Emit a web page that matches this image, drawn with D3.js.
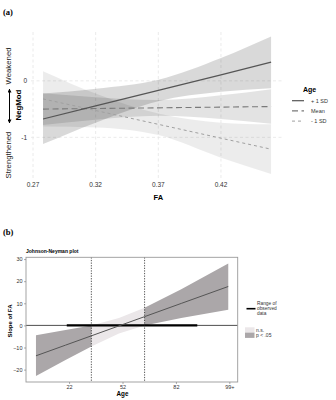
<!DOCTYPE html>
<html>
<head>
<meta charset="utf-8">
<script src="https://cdn.jsdelivr.net/npm/d3@7"></script>
<style>
  body { margin: 0; background: #fff; }
  svg { font-family: "Liberation Sans", Arial, sans-serif; display: block; }
</style>
</head>
<body>
<svg id="chart" width="336" height="400"></svg>
<script>
// Panel (a): simple slopes of NegMod on FA at three Age levels
const faX = [0.278, 0.32, 0.37, 0.42, 0.46];
const plusEst = [-0.675, -0.443, -0.17, 0.105, 0.33];
const plusLo = [-1.12, -0.74, -0.36, -0.195, -0.13];
const plusHi = [-0.225, -0.14, 0.02, 0.405, 0.785];
const meanEst = [-0.5, -0.49, -0.478, -0.465, -0.455];
const meanLo = [-0.78, -0.69, -0.62, -0.675, -0.76];
const meanHi = [-0.22, -0.29, -0.34, -0.255, -0.15];
const minusEst = [-0.32, -0.525, -0.77, -1.015, -1.21];
const minusLo = [-0.81, -0.825, -0.96, -1.36, -1.65];
const minusHi = [0.17, -0.225, -0.58, -0.74, -0.77];
const faTicks = [0.27, 0.32, 0.37, 0.42];
const negModTicks = [0, -1];
const ageLevels = ["+ 1 SD", "Mean", "- 1 SD"];

// Panel (b): Johnson-Neyman plot
const ageX = [3.4, 20, 34.5, 50, 64.4, 85, 111.4];
const jnEst = [-13.75, -8.93, -4.72, -0.22, 3.96, 9.94, 17.6];
const jnLo = [-22.9, -15.7, -9.6, -3.7, 0, 3.4, 7.1];
const jnHi = [-4.4, -2.1, 0, 3.3, 8.0, 16.4, 28.0];
const jnBounds = [34.5, 64.4];
const observedRange = [20.7, 94];
const ageTicks = [22, 52, 82, 112];
const ageTickLabels = ["22", "52", "82", "99+"];
const slopeTicks = [-20, -10, 0, 10, 20, 30];

const svg = d3.select("#chart");

// ---------- panel (a) ----------
const xA = d3.scaleLinear().domain([0.2684, 0.4695]).range([31, 283]);
const yA = d3.scaleLinear().domain([-1.72, 0.9]).range([178, 30]);

svg.append("text").attr("x", 3).attr("y", 15)
  .style("font-family", "'Liberation Serif', serif").style("font-weight", "bold").style("font-size", "8.5px")
  .text("(a)");

const gridA = svg.append("g").attr("stroke", "#e4e4e4").attr("stroke-width", 0.8).attr("stroke-dasharray", "3,2.5");
faTicks.forEach(t => {
  gridA.append("line").attr("x1", xA(t)).attr("x2", xA(t)).attr("y1", 32).attr("y2", 178);
});
negModTicks.forEach(t => {
  gridA.append("line").attr("x1", 31).attr("x2", 283).attr("y1", yA(t)).attr("y2", yA(t));
});

const seriesA = [
  { name: "- 1 SD", est: minusEst, lo: minusLo, hi: minusHi, op: 0.075, stroke: "#a0a0a0", dash: "3,3", w: 1 },
  { name: "Mean", est: meanEst, lo: meanLo, hi: meanHi, op: 0.11, stroke: "#7a7a7a", dash: "6,3.5", w: 1.1 },
  { name: "+ 1 SD", est: plusEst, lo: plusLo, hi: plusHi, op: 0.15, stroke: "#555", dash: null, w: 1.2 }
];

const bandA = d3.area()
  .x(d => xA(d.x)).y0(d => yA(d.lo)).y1(d => yA(d.hi))
  .curve(d3.curveMonotoneX);
const lineA = d3.line().x(d => xA(d.x)).y(d => yA(d.y));

seriesA.forEach(s => {
  const pts = faX.map((x, i) => ({ x, lo: s.lo[i], hi: s.hi[i] }));
  svg.append("path").datum(pts).attr("d", bandA).attr("fill", "#000").attr("fill-opacity", s.op);
});
seriesA.forEach(s => {
  const pts = faX.map((x, i) => ({ x, y: s.est[i] }));
  svg.append("path").datum(pts).attr("d", lineA)
    .attr("fill", "none").attr("stroke", s.stroke).attr("stroke-width", s.w)
    .attr("stroke-dasharray", s.dash);
});

// axis tick labels
faTicks.forEach(t => {
  svg.append("text").attr("x", xA(t)).attr("y", 187).attr("text-anchor", "middle")
    .style("font-size", "6.5px").attr("fill", "#333").text(t.toFixed(2));
});
negModTicks.forEach(t => {
  svg.append("text").attr("x", 27).attr("y", yA(t) + 2.3).attr("text-anchor", "end")
    .style("font-size", "6.5px").attr("fill", "#333").text(t);
});
svg.append("text").attr("x", xA(0.37)).attr("y", 200).attr("text-anchor", "middle")
  .style("font-size", "7.5px").style("font-weight", "bold").text("FA");

// y label with direction arrow
svg.append("text").attr("transform", "translate(11,66) rotate(-90)").attr("text-anchor", "middle")
  .style("font-size", "7.8px").attr("fill", "#222").text("Weakened");
svg.append("text").attr("transform", "translate(11,155) rotate(-90)").attr("text-anchor", "middle")
  .style("font-size", "7.8px").attr("fill", "#222").text("Strengthened");
svg.append("text").attr("transform", "translate(21,105) rotate(-90)").attr("text-anchor", "middle")
  .style("font-size", "7.8px").style("font-weight", "bold").text("NegMod");
const defs = svg.append("defs");
defs.append("marker").attr("id", "ah").attr("viewBox", "0 0 10 10").attr("refX", 9).attr("refY", 5)
  .attr("markerWidth", 4).attr("markerHeight", 4).attr("orient", "auto-start-reverse")
  .append("path").attr("d", "M0,0L10,5L0,10z").attr("fill", "#000");
svg.append("line").attr("x1", 9.5).attr("x2", 9.5).attr("y1", 89).attr("y2", 123)
  .attr("stroke", "#000").attr("stroke-width", 1)
  .attr("marker-start", "url(#ah)").attr("marker-end", "url(#ah)");

// legend (a)
svg.append("text").attr("x", 303).attr("y", 92).style("font-size", "7px").style("font-weight", "bold").text("Age");
const legStyles = [seriesA[2], seriesA[1], seriesA[0]];
ageLevels.forEach((lab, i) => {
  const s = legStyles[i];
  const y = 100.7 + i * 10.2;
  svg.append("line").attr("x1", 292).attr("x2", 304).attr("y1", y).attr("y2", y)
    .attr("stroke", s.stroke).attr("stroke-width", s.w).attr("stroke-dasharray", s.dash);
  svg.append("text").attr("x", 311).attr("y", y + 2).style("font-size", "5.5px").attr("fill", "#333").text(lab);
});

// ---------- panel (b) ----------
const xB = d3.scaleLinear().domain([-2.2, 116.7]).range([26, 237.7]);
const yB = d3.scaleLinear().domain([-25.6, 30.8]).range([382, 257.3]);

svg.append("text").attr("x", 3).attr("y", 235)
  .style("font-family", "'Liberation Serif', serif").style("font-weight", "bold").style("font-size", "8.5px")
  .text("(b)");
svg.append("text").attr("x", 26).attr("y", 253).style("font-size", "5px").style("font-weight", "bold")
  .text("Johnson-Neyman plot");

const jnPts = ageX.map((x, i) => ({ x, lo: jnLo[i], hi: jnHi[i], y: jnEst[i] }));
const bandB = d3.area().x(d => xB(d.x)).y0(d => yB(d.lo)).y1(d => yB(d.hi));
const i1 = ageX.indexOf(jnBounds[0]), i2 = ageX.indexOf(jnBounds[1]);
svg.append("path").datum(jnPts.slice(i1, i2 + 1)).attr("d", bandB).attr("fill", "#ebe7e9");
svg.append("path").datum(jnPts.slice(0, i1 + 1)).attr("d", bandB).attr("fill", "#aba7a9");
svg.append("path").datum(jnPts.slice(i2)).attr("d", bandB).attr("fill", "#aba7a9");

// zero line and observed range
svg.append("line").attr("x1", 26).attr("x2", 237.7).attr("y1", yB(0)).attr("y2", yB(0))
  .attr("stroke", "#222").attr("stroke-width", 0.8);
svg.append("line").attr("x1", xB(observedRange[0])).attr("x2", xB(observedRange[1]))
  .attr("y1", yB(0)).attr("y2", yB(0)).attr("stroke", "#000").attr("stroke-width", 2.4);

svg.append("path").datum(jnPts).attr("d", d3.line().x(d => xB(d.x)).y(d => yB(d.y)))
  .attr("fill", "none").attr("stroke", "#555").attr("stroke-width", 1);

jnBounds.forEach(b => {
  svg.append("line").attr("x1", xB(b)).attr("x2", xB(b)).attr("y1", 257.3).attr("y2", 382)
    .attr("stroke", "#111").attr("stroke-width", 0.7).attr("stroke-dasharray", "1.3,1.3");
});

svg.append("rect").attr("x", 26).attr("y", 257.3).attr("width", 211.7).attr("height", 124.7)
  .attr("fill", "none").attr("stroke", "#9a9a9a").attr("stroke-width", 0.9);

const axB = svg.append("g").attr("transform", "translate(0,382)")
  .call(d3.axisBottom(xB).tickValues(ageTicks).tickFormat((d, i) => ageTickLabels[i]).tickSize(2).tickPadding(1.5));
const ayB = svg.append("g").attr("transform", "translate(26,0)")
  .call(d3.axisLeft(yB).tickValues(slopeTicks).tickSize(2).tickPadding(1.5));
[axB, ayB].forEach(g => {
  g.select(".domain").remove();
  g.selectAll("line").attr("stroke", "#777").attr("stroke-width", 0.6);
  g.selectAll("text").style("font-size", "5.5px").attr("fill", "#333").style("font-family", "'Liberation Sans', Arial, sans-serif");
});

svg.append("text").attr("x", xB(52)).attr("y", 396).attr("text-anchor", "middle")
  .style("font-size", "6.3px").style("font-weight", "bold").text("Age");
svg.append("text").attr("transform", "translate(12," + yB(2) + ") rotate(-90)").attr("text-anchor", "middle")
  .style("font-size", "6px").style("font-weight", "bold").text("Slope of FA");

// legend (b)
svg.append("line").attr("x1", 246.5).attr("x2", 255.5).attr("y1", 308.7).attr("y2", 308.7)
  .attr("stroke", "#000").attr("stroke-width", 1.6);
["Range of", "observed", "data"].forEach((t, i) => {
  svg.append("text").attr("x", 257).attr("y", 305 + i * 4.8).style("font-size", "4.8px").attr("fill", "#333").text(t);
});
svg.append("rect").attr("x", 245).attr("y", 327.3).attr("width", 9.5).attr("height", 5.3).attr("fill", "#ebe7e9");
svg.append("rect").attr("x", 245).attr("y", 332.6).attr("width", 9.5).attr("height", 5.3).attr("fill", "#aba7a9");
svg.append("text").attr("x", 256).attr("y", 331.5).style("font-size", "5px").attr("fill", "#333").text("n.s.");
svg.append("text").attr("x", 256).attr("y", 337.2).style("font-size", "5px").attr("fill", "#333").text("p < .05");
</script>
</body>
</html>
